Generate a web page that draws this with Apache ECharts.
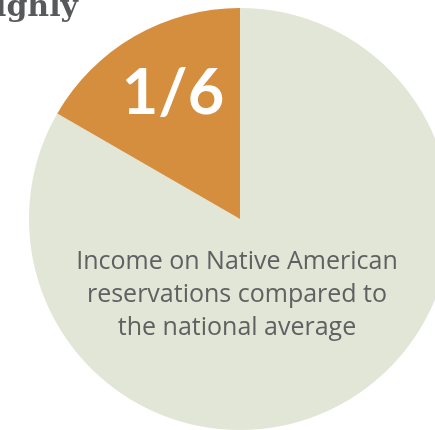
<!DOCTYPE html>
<html><head><meta charset="utf-8">
<script src="https://cdn.jsdelivr.net/npm/echarts@6/dist/echarts.min.js"></script>
<style>html,body{margin:0;padding:0;background:#fff}#c{width:435px;height:430px}</style>
</head><body><div id="c"></div>
<script>
const categories = ['National average (rest)', 'Native American reservations'];
const values = [5/6, 1/6];
const colors = ['#E2E6D6', '#D58E3E'];
const titleText = 'Highly';
const bigLabel = '1/6';
const captionLines = ['Income on Native American', 'reservations compared to', 'the national average'];

const chart = echarts.init(document.getElementById('c'), null, {renderer: 'canvas'});
chart.setOption({
  animation: false,
  series: [{
    type: 'pie',
    center: [240, 219],
    radius: [0, 211],
    startAngle: 90,
    clockwise: true,
    label: {show: false},
    labelLine: {show: false},
    emphasis: {disabled: true},
    silent: true,
    data: categories.map((c, i) => ({name: c, value: values[i], itemStyle: {color: colors[i]}}))
  }],
  graphic: [
    {type: 'text', z: 100, style: {x: 78, y: -7, text: titleText, align: 'right', verticalAlign: 'top', font: 'bold 30px "DejaVu Serif"', fill: '#58595B'}},
    {type: 'text', z: 100, style: {x: 173, y: 94, text: bigLabel, align: 'center', verticalAlign: 'middle', font: 'bold 63px Lato', fill: '#ffffff'}},
    {type: 'text', z: 100, style: {x: 237, y: 295, text: captionLines.join('\n'), align: 'center', verticalAlign: 'middle', font: '25px "Open Sans"', lineHeight: 33, fill: '#5E6062'}}
  ]
});
</script></body></html>
